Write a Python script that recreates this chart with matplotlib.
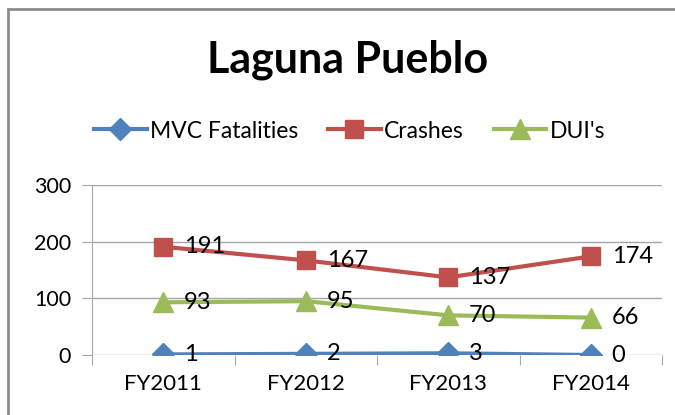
import matplotlib.pyplot as plt
from matplotlib.patches import Rectangle
from matplotlib.ticker import FixedLocator, NullFormatter

plt.rcParams['font.family'] = ['Lato', 'DejaVu Sans']

years = ["FY2011", "FY2012", "FY2013", "FY2014"]
fatalities = [1, 2, 3, 0]
crashes = [191, 167, 137, 174]
duis = [93, 95, 70, 66]

fig = plt.figure(figsize=(6.75, 4.15), dpi=100)
ax = fig.add_axes([92 / 675, 1 - 355 / 415, 570 / 675, 170 / 415])

# outer chart frame (top-left corner visible)
fig.patches.append(Rectangle((8 / 675, -0.1), 1.2, 1 - 9 / 415 + 0.1, transform=fig.transFigure,
                             fill=False, edgecolor='#8c8c8c', linewidth=2))

x = range(len(years))
series = [
    ("MVC Fatalities", fatalities, '#4F81BD', 'D', 11),
    ("Crashes", crashes, '#C0504D', 's', 13),
    ("DUI's", duis, '#9BBB59', '^', 14),
]
for name, vals, col, mk, ms in series:
    ax.plot(x, vals, color=col, lw=3, marker=mk, markersize=ms, label=name, zorder=3)
    for xi, v in zip(x, vals):
        ax.annotate(str(v), (xi, v), xytext=(15, 0), textcoords='offset points',
                    ha='left', va='center', fontsize=17, color='black', zorder=4)

ax.set_xlim(-0.5, 3.5)
ax.set_ylim(0, 300)
ax.set_yticks([0, 100, 200, 300])
ax.yaxis.grid(True, color='#a6a6a6', lw=1)
ax.set_axisbelow(True)
for s in ['top', 'right', 'bottom']:
    ax.spines[s].set_visible(False)
ax.spines['left'].set_color('#a6a6a6')
ax.spines['left'].set_bounds(0, 300)

ax.xaxis.set_major_locator(FixedLocator([-0.5, 0.5, 1.5, 2.5, 3.5]))
ax.xaxis.set_major_formatter(NullFormatter())
ax.xaxis.set_minor_locator(FixedLocator(list(x)))
ax.set_xticklabels(years, minor=True)
ax.tick_params(axis='x', which='major', length=7, color='#a6a6a6', direction='out')
ax.tick_params(axis='x', which='minor', length=0, pad=14, labelsize=16)
ax.tick_params(axis='y', length=7, color='#a6a6a6', labelsize=15.5, pad=8)

fig.text(0.515, 1 - 60 / 415, "Laguna Pueblo", ha='center', va='center',
         fontsize=31, fontweight='bold')
fig.legend(loc='center', bbox_to_anchor=(0.518, 1 - 131 / 415), ncol=3, frameon=False,
           fontsize=16.5, handlelength=2.3, handletextpad=0.15, columnspacing=1.3,
           markerscale=1.0)

fig.savefig("out.png", dpi=100)
